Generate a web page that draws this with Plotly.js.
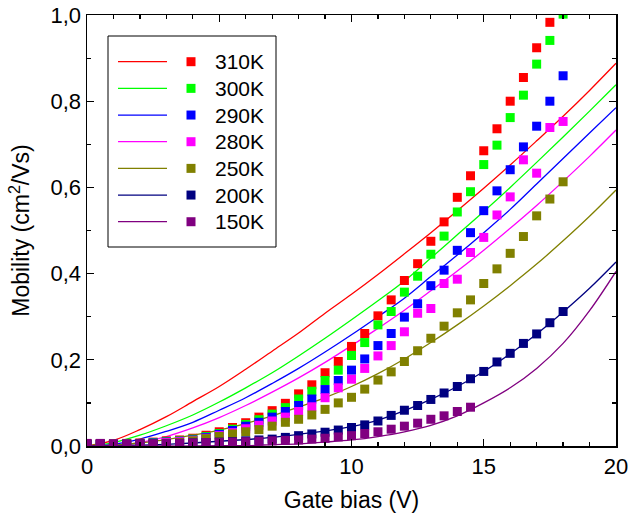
<!DOCTYPE html>
<html>
<head>
<meta charset="utf-8">
<script src="https://cdn.plot.ly/plotly-3.0.1.min.js"></script>
<style>html,body{margin:0;padding:0;background:#fff;}#chart{width:631px;height:520px;}</style>
</head>
<body>
<div id="chart"></div>
<script>
// ---- data ----
const seriesNames = ['310K', '300K', '290K', '280K', '250K', '200K', '150K'];
const seriesColors = ['#FF0000', '#00FF00', '#0000FF', '#FF00FF', '#808000', '#000080', '#800080'];

// gate bias values of the measured points
const biasTo17_5 = [0,0.5,1,1.5,2,2.5,3,3.5,4,4.5,5,5.5,6,6.5,7,7.5,8,8.5,9,9.5,10,10.5,11,11.5,12,12.5,13,13.5,14,14.5,15,15.5,16,16.5,17,17.5];
const biasTo18 = [0,0.5,1,1.5,2,2.5,3,3.5,4,4.5,5,5.5,6,6.5,7,7.5,8,8.5,9,9.5,10,10.5,11,11.5,12,12.5,13,13.5,14,14.5,15,15.5,16,16.5,17,17.5,18];
const biasTo14_5 = [0,0.5,1,1.5,2,2.5,3,3.5,4,4.5,5,5.5,6,6.5,7,7.5,8,8.5,9,9.5,10,10.5,11,11.5,12,12.5,13,13.5,14,14.5];

// measured mobility (cm2/Vs)
const mu310 = [0.005,0.005,0.005,0.006,0.007,0.009,0.012,0.014,0.018,0.025,0.033,0.043,0.054,0.067,0.082,0.099,0.121,0.142,0.170,0.196,0.231,0.261,0.302,0.339,0.384,0.423,0.475,0.520,0.577,0.627,0.685,0.736,0.800,0.855,0.924,0.983];
const mu300 = [0.004,0.004,0.004,0.005,0.006,0.008,0.010,0.012,0.016,0.022,0.029,0.039,0.050,0.061,0.074,0.089,0.109,0.127,0.152,0.176,0.210,0.240,0.281,0.312,0.357,0.394,0.445,0.487,0.543,0.590,0.653,0.698,0.762,0.814,0.886,0.941,1.002];
const mu290 = [0.004,0.004,0.004,0.004,0.005,0.007,0.009,0.011,0.014,0.020,0.027,0.036,0.046,0.055,0.067,0.080,0.094,0.109,0.131,0.152,0.176,0.202,0.233,0.261,0.299,0.330,0.372,0.408,0.454,0.495,0.546,0.592,0.641,0.694,0.742,0.800,0.859];
const mu280 = [0.004,0.004,0.004,0.004,0.005,0.006,0.008,0.010,0.013,0.018,0.024,0.031,0.040,0.048,0.058,0.067,0.080,0.091,0.112,0.135,0.155,0.180,0.209,0.233,0.265,0.308,0.319,0.377,0.387,0.449,0.484,0.536,0.578,0.664,0.633,0.739,0.753];
const mu250 = [0.004,0.004,0.004,0.004,0.005,0.005,0.006,0.008,0.012,0.017,0.022,0.028,0.033,0.038,0.046,0.055,0.062,0.072,0.085,0.100,0.113,0.132,0.153,0.172,0.196,0.221,0.250,0.278,0.309,0.339,0.377,0.411,0.447,0.486,0.534,0.573,0.613];
const mu200 = [0.004,0.004,0.004,0.004,0.005,0.005,0.005,0.006,0.007,0.008,0.009,0.010,0.012,0.014,0.016,0.020,0.024,0.028,0.032,0.037,0.043,0.049,0.058,0.071,0.083,0.094,0.108,0.123,0.138,0.156,0.173,0.195,0.215,0.238,0.260,0.286,0.312];
const mu150 = [0.006,0.006,0.005,0.005,0.005,0.005,0.006,0.006,0.007,0.008,0.008,0.009,0.010,0.011,0.012,0.013,0.014,0.016,0.018,0.021,0.024,0.029,0.033,0.039,0.046,0.053,0.062,0.070,0.080,0.090];

// fitted curves, read at each volt
const fitBias = [0,1,2,3,4,5,6,7,8,9,10,11,12,13,14,15,16,17,18,19,20];
const fit310 = [0,0.013,0.038,0.068,0.103,0.138,0.178,0.220,0.262,0.308,0.352,0.398,0.446,0.495,0.546,0.598,0.652,0.708,0.765,0.825,0.888];
const fit300 = [0,0.008,0.025,0.047,0.072,0.102,0.135,0.170,0.209,0.250,0.293,0.337,0.383,0.436,0.490,0.544,0.600,0.658,0.717,0.777,0.838];
const fit290 = [0,0.004,0.016,0.034,0.055,0.083,0.112,0.145,0.180,0.218,0.258,0.300,0.343,0.393,0.443,0.495,0.549,0.608,0.667,0.726,0.785];
const fit280 = [0,0.001,0.008,0.022,0.042,0.066,0.094,0.125,0.158,0.194,0.233,0.273,0.315,0.360,0.406,0.454,0.505,0.558,0.614,0.672,0.733];
const fit250 = [0,0.002,0.007,0.015,0.025,0.037,0.052,0.070,0.090,0.112,0.138,0.168,0.202,0.240,0.281,0.325,0.372,0.422,0.476,0.533,0.594];
const fit200 = [0,0.001,0.002,0.004,0.007,0.011,0.015,0.020,0.027,0.035,0.045,0.060,0.082,0.108,0.138,0.173,0.214,0.260,0.311,0.366,0.427];
const fit150 = [0,0,0,0,0,0.001,0.001,0.003,0.005,0.009,0.014,0.022,0.033,0.048,0.070,0.100,0.135,0.180,0.238,0.314,0.405];

// tick settings
const xTickStep = 5, xMinorStep = 1, yTickStep = 0.2, yMinorStep = 0.1;

// ---- build traces ----
const measX = [biasTo17_5, biasTo18, biasTo18, biasTo18, biasTo18, biasTo18, biasTo14_5];
const measY = [mu310, mu300, mu290, mu280, mu250, mu200, mu150];
const fitY = [fit310, fit300, fit290, fit280, fit250, fit200, fit150];

const traces = [];
for (let i = 0; i < seriesNames.length; i++) {
  traces.push({
    x: fitBias, y: fitY[i], type: 'scatter', mode: 'lines',
    line: {color: seriesColors[i], width: 1.3, shape: 'spline', smoothing: 1},
    name: seriesNames[i] + ' fit', showlegend: false, hoverinfo: 'skip'
  });
}
for (let i = 0; i < seriesNames.length; i++) {
  traces.push({
    x: measX[i], y: measY[i], type: 'scatter', mode: 'markers',
    marker: {symbol: 'square', size: 9, color: seriesColors[i], line: {width: 0}},
    name: seriesNames[i], showlegend: false
  });
}

// ---- custom legend (Origin style: line, square, label) ----
const L = 87, T = 15, W = 529, H = 431;
const px = p => (p - L) / W;
const py = p => (T + H - p) / H;
const shapes = [];
const annotations = [];
shapes.push({type: 'rect', xref: 'paper', yref: 'paper', x0: px(108), x1: px(276), y0: py(36), y1: py(247),
  line: {color: '#000', width: 1}, fillcolor: 'rgba(255,255,255,1)', layer: 'above'});
for (let i = 0; i < seriesNames.length; i++) {
  const yc = 61.7 + i * 26.67;
  shapes.push({type: 'line', xref: 'paper', yref: 'paper', x0: px(118), x1: px(167), y0: py(yc), y1: py(yc),
    line: {color: seriesColors[i], width: 1.3}, layer: 'above'});
  shapes.push({type: 'rect', xref: 'paper', yref: 'paper', x0: px(186.5), x1: px(195.5), y0: py(yc - 4.5), y1: py(yc + 4.5),
    line: {width: 0}, fillcolor: seriesColors[i], layer: 'above'});
  annotations.push({xref: 'paper', yref: 'paper', x: px(213), y: py(yc), xanchor: 'left', yanchor: 'middle',
    text: seriesNames[i], showarrow: false, font: {family: 'Liberation Sans, Arial, sans-serif', size: 21, color: '#000'}});
}

const fontFam = 'Liberation Sans, Arial, sans-serif';
const axisCommon = {
  showline: true, linecolor: '#000', linewidth: 1.5, mirror: 'ticks',
  ticks: 'inside', ticklen: 7, tickwidth: 1.3, tickcolor: '#000',
  showgrid: false, zeroline: false,
  tickfont: {family: fontFam, size: 22, color: '#000'}
};

const layout = {
  width: 631, height: 520,
  margin: {l: L, r: 631 - L - W, t: T, b: 520 - T - H, pad: 0},
  paper_bgcolor: '#fff', plot_bgcolor: '#fff',
  showlegend: false,
  separators: ', ',
  font: {family: fontFam, color: '#000'},
  xaxis: Object.assign({}, axisCommon, {
    range: [0, 20], tick0: 0, dtick: xTickStep,
    minor: {dtick: xMinorStep, ticks: 'inside', ticklen: 4, tickwidth: 1.2, tickcolor: '#000', showgrid: false},
    title: {text: 'Gate bias (V)', font: {family: fontFam, size: 23, color: '#000'}, standoff: 14},
    automargin: false
  }),
  yaxis: Object.assign({}, axisCommon, {
    range: [0, 1], tick0: 0, dtick: yTickStep, tickformat: '.1f',
    minor: {dtick: yMinorStep, ticks: 'inside', ticklen: 4, tickwidth: 1.2, tickcolor: '#000', showgrid: false},
    title: {text: 'Mobility (cm<sup>2</sup>/Vs)', font: {family: fontFam, size: 23, color: '#000'}, standoff: 14},
    automargin: false
  }),
  shapes: shapes,
  annotations: annotations
};

Plotly.newPlot('chart', traces, layout, {displayModeBar: false, staticPlot: true});
</script>
</body>
</html>
